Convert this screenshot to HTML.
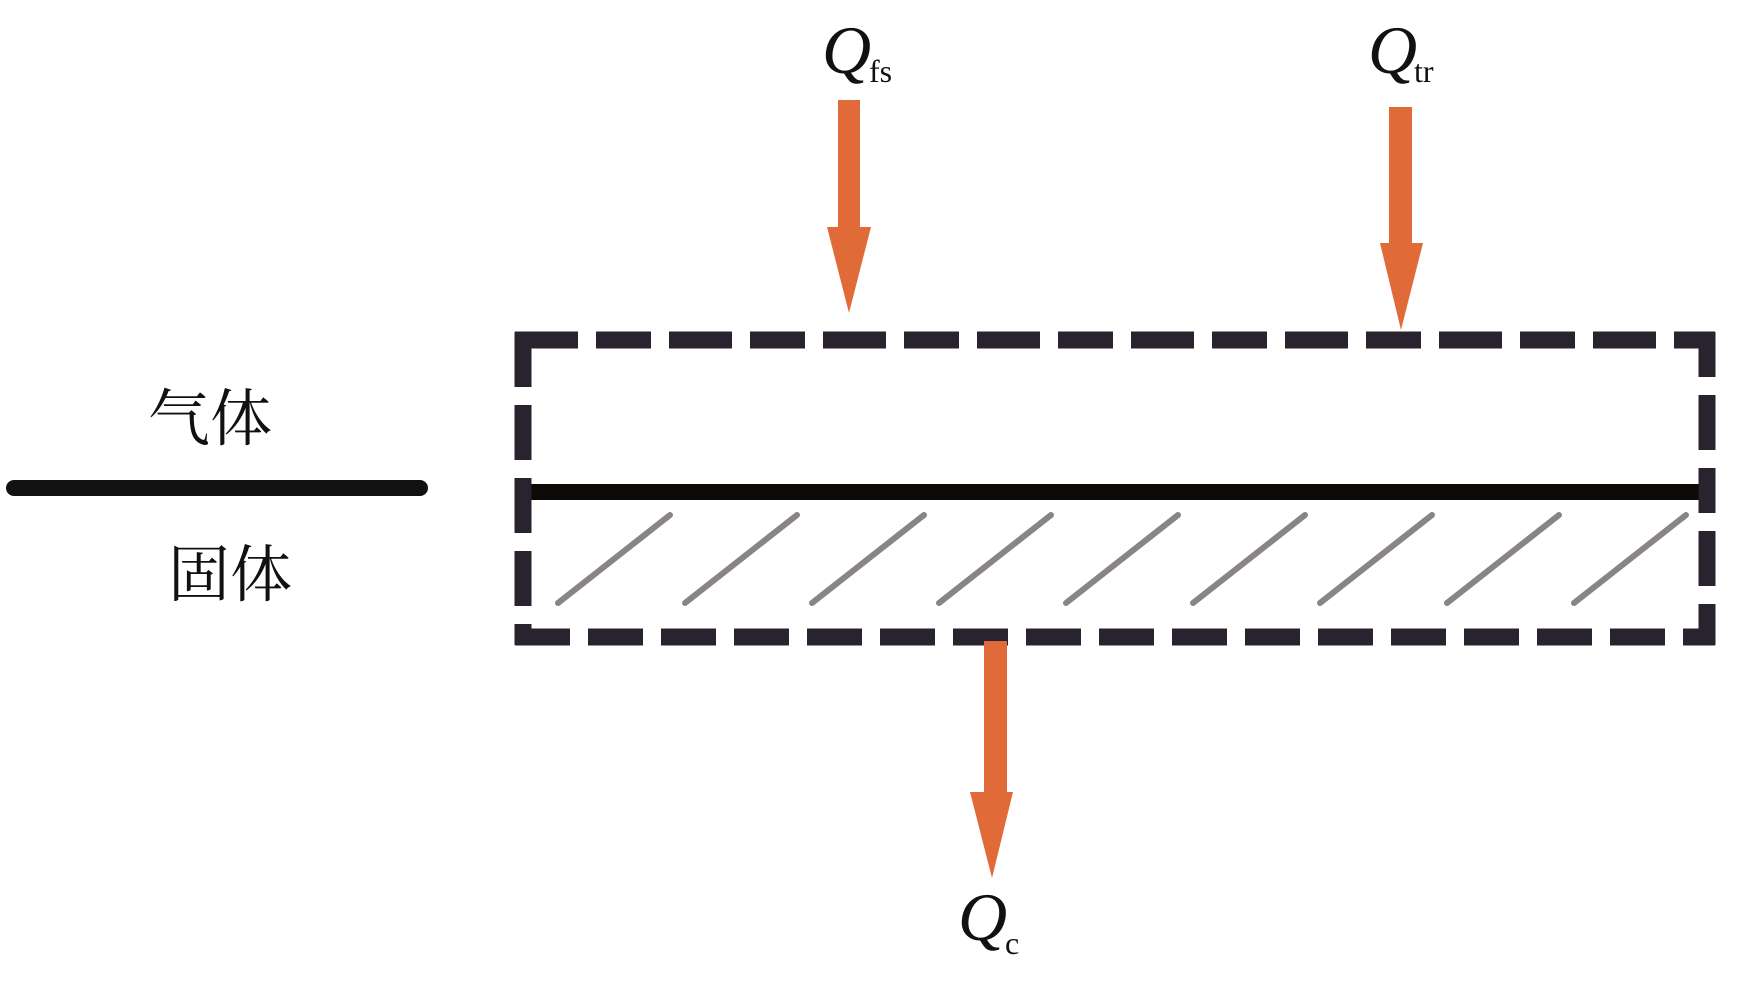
<!DOCTYPE html>
<html><head><meta charset="utf-8"><style>
html,body{margin:0;padding:0;background:#fff;}
svg{display:block;}
</style></head><body>
<svg width="1742" height="987" viewBox="0 0 1742 987" xmlns="http://www.w3.org/2000/svg">
<rect width="1742" height="987" fill="#fff"/>
<!-- left interface line -->
<line x1="14" y1="488" x2="420" y2="488" stroke="#111" stroke-width="16" stroke-linecap="round"/>
<text x="148" y="440" font-family="'Noto Serif CJK SC','Noto Sans CJK SC',serif" font-size="62" fill="#111">气体</text>
<text x="168" y="596" font-family="'Noto Serif CJK SC','Noto Sans CJK SC',serif" font-size="62" fill="#111">固体</text>
<!-- hatches -->
<g stroke="#8a8585" stroke-width="6" stroke-linecap="round">
<line x1="558" y1="603" x2="670" y2="515"/>
<line x1="685" y1="603" x2="797" y2="515"/>
<line x1="812" y1="603" x2="924" y2="515"/>
<line x1="939" y1="603" x2="1051" y2="515"/>
<line x1="1066" y1="603" x2="1178" y2="515"/>
<line x1="1193" y1="603" x2="1305" y2="515"/>
<line x1="1320" y1="603" x2="1432" y2="515"/>
<line x1="1447" y1="603" x2="1559" y2="515"/>
<line x1="1574" y1="603" x2="1686" y2="515"/>
</g>
<!-- interface line in box -->
<line x1="523" y1="492" x2="1707" y2="492" stroke="#0d0a08" stroke-width="16"/>
<!-- dashed box -->
<g stroke="#29232f" stroke-width="17" fill="none" stroke-linecap="butt">
<line x1="515" y1="340" x2="1715" y2="340" stroke-dasharray="63 18 55 18"/>
<line x1="515" y1="637" x2="1715" y2="637" stroke-dasharray="55 18"/>
<line x1="523" y1="332" x2="523" y2="645" stroke-dasharray="55 18"/>
<line x1="1707" y1="332" x2="1707" y2="645" stroke-dasharray="45 18 55 18"/>
</g>
<!-- arrows -->
<g fill="#e06b38">
<rect x="838" y="100" width="22" height="130"/>
<polygon points="827,227 871,227 849,313"/>
<rect x="1389" y="107" width="23" height="138"/>
<polygon points="1380,243 1423,243 1401,330"/>
<rect x="984" y="641" width="23" height="154"/>
<polygon points="970,792 1013,792 992,878"/>
</g>
<!-- labels -->
<g font-family="'Liberation Serif',serif" fill="#111">
<text x="822" y="73" font-size="68" font-style="italic">Q</text>
<text x="869" y="82" font-size="32">fs</text>
<text x="1368" y="73" font-size="68" font-style="italic">Q</text>
<text x="1414" y="82" font-size="32">tr</text>
<text x="958" y="940" font-size="68" font-style="italic">Q</text>
<text x="1005" y="954" font-size="32">c</text>
</g>
</svg>
</body></html>
